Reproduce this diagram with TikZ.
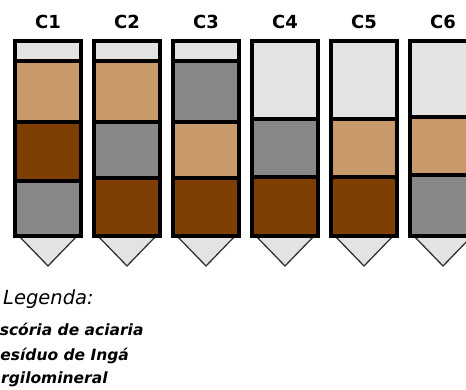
\documentclass[tikz,border=0pt]{standalone}
\usepackage{fontspec}
\usepackage{xcolor}
\setmainfont{DejaVu Sans}
\definecolor{emptyfill}{HTML}{E3E3E3}
\definecolor{tanfill}{HTML}{C8996A}
\definecolor{brownfill}{HTML}{7F3F04}
\definecolor{grayfill}{HTML}{888888}

\begin{document}
\begin{tikzpicture}[x=1pt,y=-1pt]
            \tikzset{layer/.style = {draw=black, line width=3.2pt}}
            \tikzset{tipcone/.style = {draw=black!80, line width=1.3pt, fill=emptyfill}}
            \tikzset{colname/.style = {inner sep=0pt, font=\fontsize{18}{21}\selectfont\bfseries}}
            \tikzset{legitem/.style = {inner sep=0pt, anchor=base west, font=\fontsize{15.5}{18}\selectfont\bfseries\itshape}}

            \useasboundingbox (0,0) rectangle (466,390);
            \clip (0,0) rectangle (466,390);

            % columns: top of each layer below the empty part
            \foreach \n/\layers in {1/{61/tanfill,122/brownfill,181/grayfill},
                                    2/{61/tanfill,122/grayfill,178/brownfill},
                                    3/{61/grayfill,122/tanfill,178/brownfill},
                                    4/{119/grayfill,177/brownfill},
                                    5/{119/tanfill,177/brownfill},
                                    6/{117/tanfill,175/grayfill}}
            {
              \pgfmathsetmacro{\xl}{15+79*(\n-1)}
              \pgfmathsetmacro{\xr}{\xl+66}
              \pgfmathsetmacro{\xm}{\xl+33}
              \draw[tipcone] (\xl+2,234) -- (\xm,266) -- (\xr-2,234) -- cycle;
              \draw[layer, fill=emptyfill] (\xl,41) rectangle (\xr,236);
              \foreach \y/\col in \layers
              {
                \draw[layer, fill=\col] (\xl,\y) rectangle (\xr,236);
              }
              \node[colname] (c\n) at (\xm,22) {C\n};
            }

            % legend
            \node[inner sep=0pt, anchor=base west, font=\fontsize{19.5}{22}\selectfont\itshape] (legenda) at (3,305) {Legenda:};
            \node[legitem] (escoria) at (-11,335) {Escória de aciaria};
            \node[legitem] (residuo) at (-11,360) {Resíduo de Ingá};
            \node[legitem] (argila) at (-11,383) {Argilomineral};
\end{tikzpicture}
\end{document}
